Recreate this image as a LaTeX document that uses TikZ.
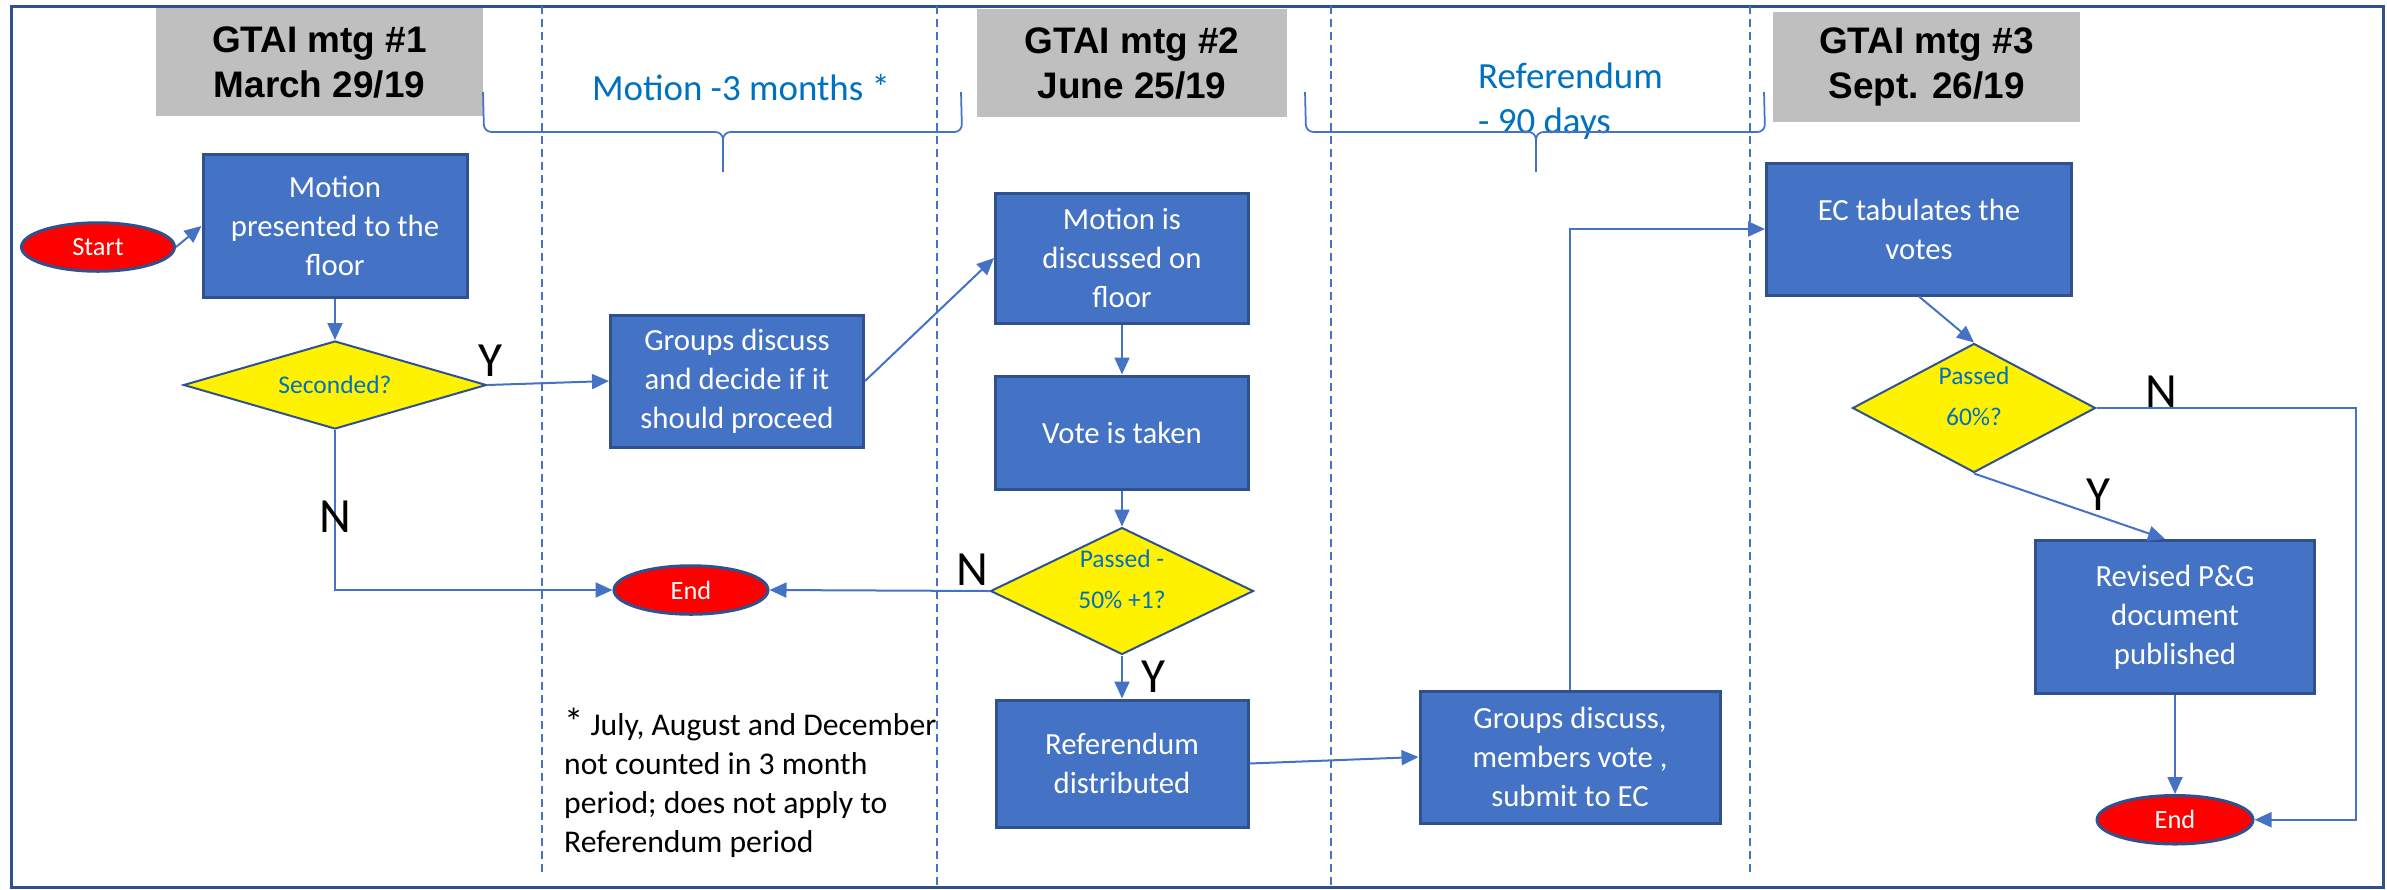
\documentclass[tikz,border=0pt]{standalone}
\usepackage{fontspec}
\setmainfont{Carlito}
\newfontfamily\headfont{Liberation Sans}
\usetikzlibrary{shapes.geometric, arrows.meta, positioning}
\definecolor{boxblue}{HTML}{4472C4}
\definecolor{edgeblue}{HTML}{2F528F}
\definecolor{textblue}{HTML}{0070C0}
\definecolor{headgray}{HTML}{BFBFBF}
\tikzstyle{meeting} = [rectangle, minimum width=65.4mm, minimum height=21.6mm, align=center, fill=headgray, font=\headfont\bfseries\fontsize{21}{25.6}\selectfont]
\tikzstyle{terminal} = [ellipse, minimum width=30.8mm, minimum height=9.7mm, inner sep=0pt, draw=edgeblue, line width=0.6mm, fill=red, text=white, font=\fontsize{15}{18}\selectfont]
\tikzstyle{task} = [rectangle, minimum width=50.6mm, minimum height=26.4mm, align=center, draw=edgeblue, line width=0.6mm, fill=boxblue, text=white, font=\fontsize{17.5}{22.2}\selectfont]
\tikzstyle{decision} = [diamond, inner sep=0pt, align=center, draw=edgeblue, line width=0.4mm, fill=yellow, text=textblue, font=\fontsize{14.5}{23.5}\selectfont]
\tikzstyle{link} = [draw=boxblue, line width=0.4mm, -{Triangle[length=3.4mm, width=3mm]}]
\tikzstyle{yn} = [text=black, font=\fontsize{28}{28}\selectfont]
\tikzstyle{lane} = [boxblue, line width=0.25mm, dash pattern=on 1.6mm off 1mm]
\tikzstyle{period} = [boxblue, line width=0.35mm, rounded corners=1.5mm]
\tikzstyle{periodtext} = [text=textblue, align=left, font=\fontsize{21}{25.6}\selectfont]

\begin{document}
\begin{tikzpicture}[x=1mm, y=-1mm]
\useasboundingbox (0,0) rectangle (477.4,177.8);

% Frame and lanes
\draw [edgeblue, line width=0.6mm] (2.2,1.2) rectangle (476.6,177.4);
\foreach \x/\yend in {108.4/175, 187.4/177.4, 266.2/177.4, 350/175}
  \draw [lane] (\x,1.2) -- (\x,\yend);

% Meetings
\node (mtg1) [meeting] at (63.9,12.4) {GTAI mtg \#1\\March 29/19};
\node (mtg2) [meeting, minimum width=62mm] at (226.4,12.6) {GTAI mtg \#2\\June 25/19};
\node (mtg3) [meeting, minimum width=61.4mm, minimum height=22mm] at (385.3,13.4) {GTAI mtg \#3\\Sept. 26/19};

% Periods
\node (months) [periodtext] at (148.2,17.6) {Motion -3 months *};
\node (days) [periodtext, anchor=west] at (294.4,20.3) {Referendum\\- 90 days};
\draw [period] (96.6,18.4) -- (96.8,26.4) -- (144.6,26.4) -- (144.6,34.4);
\draw [period] (144.6,30) -- (144.6,26.4) -- (192.4,26.4) -- (192.2,18.4);
\draw [period] (261,18.4) -- (261.2,26.4) -- (307.2,26.4) -- (307.2,34.4);
\draw [period] (307.2,30) -- (307.2,26.4) -- (353,26.4) -- (352.8,18.4);

% Nodes
\node (start) [terminal, minimum width=30.6mm] at (19.6,49.4) {Start};
\node (motion1) [task, minimum width=52.8mm, minimum height=28.6mm] at (67,45.2) {Motion\\presented to the\\floor};
\node (seconded) [decision, minimum width=60.6mm, minimum height=17.6mm, aspect=3.4, below=8.2mm of motion1] {Seconded?};
\node (groups1) [task] at (147.4,76.2) {Groups discuss\\and decide if it\\should proceed};
\node (end1) [terminal] at (138.2,118) {End};
\node (motion2) [task, minimum height=26mm] at (224.4,51.6) {Motion is\\discussed on\\floor};
\node (vote) [task, minimum height=22.6mm, below=10mm of motion2] {Vote is taken};
\node (passed2) [decision, minimum width=52.6mm, minimum height=25.4mm, aspect=2.07, below=7.2mm of vote] {Passed -\\50\% +1?\\[-10pt]\mbox{}};
\node (refdist) [task, minimum width=50.4mm, minimum height=25.4mm, below=8.6mm of passed2] {Referendum\\distributed};
\node (groups2) [task, minimum width=60mm] at (314,151.4) {Groups discuss,\\members vote ,\\submit to EC};
\node (ec) [task, minimum width=61mm] at (383.8,45.8) {EC tabulates the\\votes};
\node (passed3) [decision, minimum width=48.6mm, minimum height=25.8mm, aspect=1.88] at (394.8,81.6) {Passed\\60\%?\\[-10pt]\mbox{}};
\node (revised) [task, minimum width=55.8mm, minimum height=30.6mm] at (435,123.4) {Revised P\&G\\document\\published};
\node (end3) [terminal, minimum width=31.2mm, below=19.8mm of revised] {End};
\coordinate (nturn) at (471.2,81.6);
\node (note) [anchor=west, align=left, font=\fontsize{18}{22.2}\selectfont] at (111.6,156.5) {{\fontsize{22}{22}\selectfont *} July, August and December\\not counted in 3 month\\period; does not apply to\\Referendum period};

% Arrows
\draw [link] (start.east) -- (motion1.west);
\draw [link] (motion1) -- (seconded);
\draw [link] (seconded.east) -- node[yn, pos=0, above, inner sep=1.5mm, xshift=0.6mm] {Y} (groups1.west);
\draw [link] (groups1.east) -- (motion2.west);
\draw [link] (seconded.south) |- node[yn, pos=0.27] {N} (end1.west);
\draw [link] (motion2) -- (vote);
\draw [link] (vote) -- (passed2);
\draw [link] (passed2.west) -- node[yn, pos=0, above left, inner xsep=0pt, inner ysep=1mm] {N} (end1.east);
\draw [link] (passed2) -- node[yn, midway, right=2.5mm] {Y} (refdist);
\draw [link] (refdist.east) -- (groups2.west);
\draw [link] (groups2.north) |- (ec.west);
\draw [link] (ec.south) -- (passed3.north);
\draw [link] (passed3.south) -- node[yn, pos=0.65, above, inner sep=1mm] {Y} ([xshift=-2mm]revised.north);
\draw [link] (passed3.east) -- node[yn, pos=0.25, above, inner sep=0pt] {N} (nturn) |- (end3.east);
\draw [link] (revised) -- (end3);

\end{tikzpicture}
\end{document}
